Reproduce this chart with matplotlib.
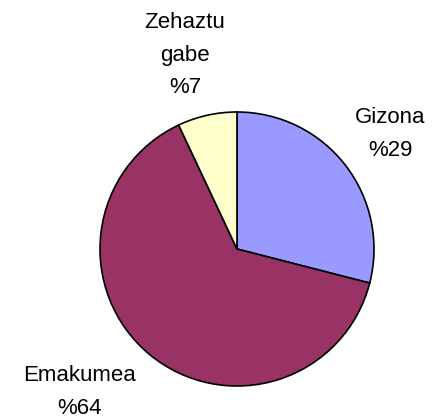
import matplotlib
matplotlib.use("Agg")
import matplotlib.pyplot as plt

labels = ["Gizona", "Emakumea", "Zehaztu\ngabe"]
values = [29, 64, 7]
colors = ["#9999FF", "#993366", "#FFFFCC"]
pct_labels = ["%29", "%64", "%7"]

W, H = 436, 420
fig = plt.figure(figsize=(W / 100, H / 100), dpi=100)
ax = fig.add_axes([0, 0, 1, 1])
ax.set_xlim(0, W)
ax.set_ylim(0, H)
ax.set_aspect("equal")
ax.axis("off")

cx, cy, r = 237, H - 249, 137
ax.pie(values, colors=colors, startangle=90, counterclock=False,
       center=(cx, cy), radius=r,
       wedgeprops=dict(edgecolor="black", linewidth=1.2))
ax.set_xlim(0, W)
ax.set_ylim(0, H)

font = dict(family="Liberation Sans", fontsize=16, color="black",
            ha="center", va="center", linespacing=1.72)
pos = [(390, H - 134), (79, H - 392), (185, H - 55)]
for lab, p, (x, y) in zip(labels, pct_labels, pos):
    ax.text(x, y, lab + "\n" + p, **font)

fig.savefig("out.png", dpi=100)
